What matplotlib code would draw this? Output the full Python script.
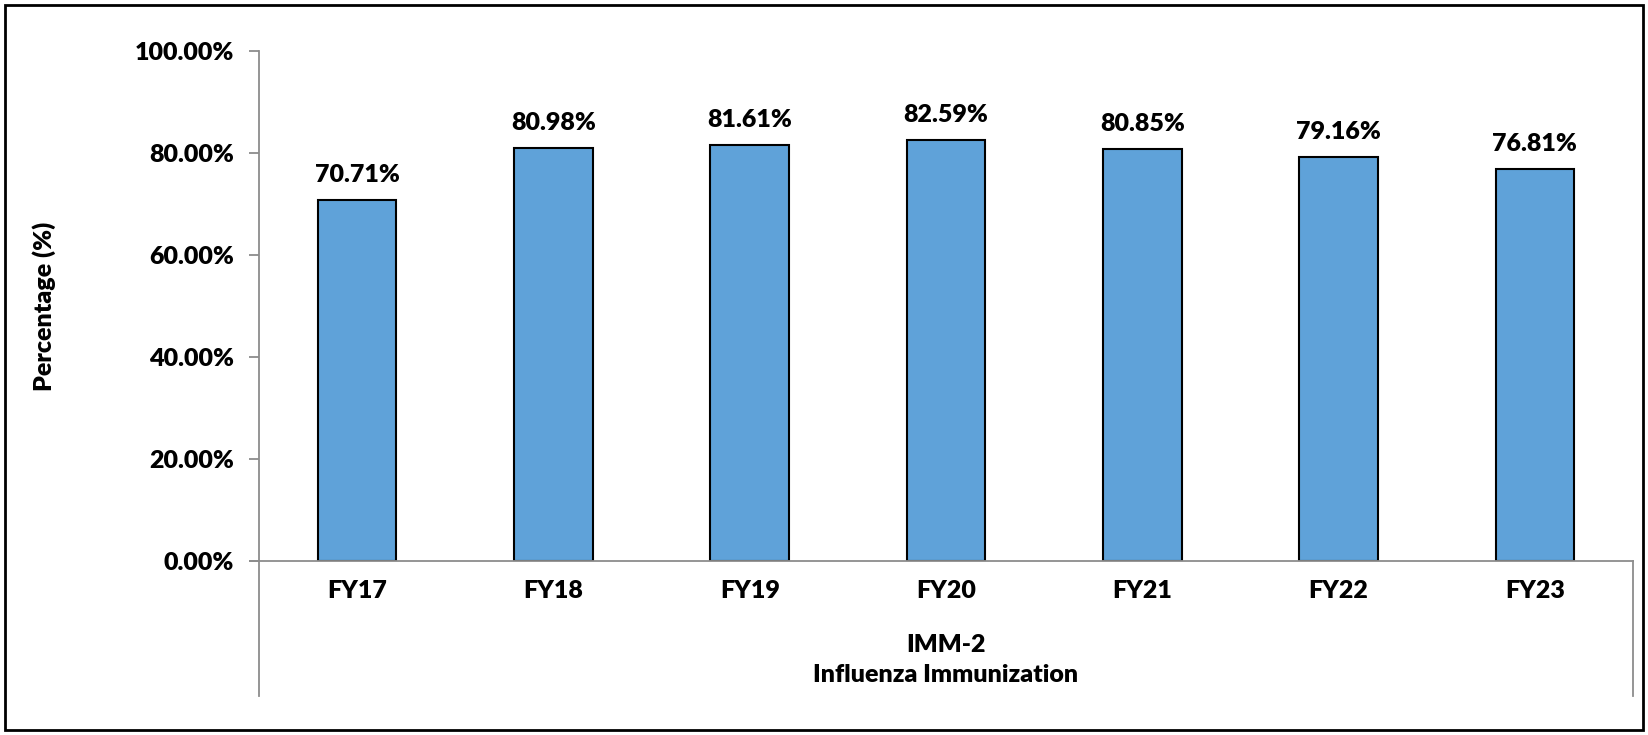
import matplotlib
matplotlib.use("Agg")
import matplotlib.pyplot as plt
from matplotlib.patches import Rectangle
from matplotlib.ticker import FuncFormatter

# data
categories = ["FY17", "FY18", "FY19", "FY20", "FY21", "FY22", "FY23"]
values = [70.71, 80.98, 81.61, 82.59, 80.85, 79.16, 76.81]
y_ticks = [0, 20, 40, 60, 80, 100]
group_label = "IMM-2\nInfluenza Immunization"

W, H = 1649, 735
FW = "heavy"
plt.rcParams["font.family"] = ["Lato", "DejaVu Sans"]
plt.rcParams["font.weight"] = FW

fig = plt.figure(figsize=(W / 100, H / 100), dpi=100)
ax = fig.add_axes([259 / W, (H - 561) / H, (1633 - 259) / W, (561 - 51) / H])

x = range(len(categories))
bars = ax.bar(x, values, width=0.4, color="#5FA2D9", edgecolor="black", linewidth=1.5, zorder=2)

for b, v in zip(bars, values):
    ax.annotate(f"{v:.2f}%", (b.get_x() + b.get_width() / 2, v), xytext=(0, 10),
                textcoords="offset points", ha="center", va="bottom",
                fontsize=18, fontweight=FW)

ax.set_xlim(-0.5, len(categories) - 0.5)
ax.set_ylim(0, 100)
ax.set_yticks(y_ticks)
ax.yaxis.set_major_formatter(FuncFormatter(lambda v, _: f"{v:.2f}%"))
ax.set_xticks(list(x))
ax.set_xticklabels(categories)
ax.tick_params(axis="y", length=7, width=1.3, color="#8c8c8c", labelsize=18, pad=11)
ax.tick_params(axis="x", length=0, labelsize=18, pad=14)
for lbl in ax.get_xticklabels() + ax.get_yticklabels():
    lbl.set_fontweight(FW)

for s in ["top", "right"]:
    ax.spines[s].set_visible(False)
for s in ["left", "bottom"]:
    ax.spines[s].set_color("#8c8c8c")
    ax.spines[s].set_linewidth(1.3)

# multi-level category separators below the axis
drop = -(696 - 561) / (561 - 51)
ax.plot([0, 0], [0, drop], transform=ax.transAxes, color="#8c8c8c", lw=1.3, clip_on=False)
ax.plot([1, 1], [0, drop], transform=ax.transAxes, color="#8c8c8c", lw=1.3, clip_on=False)
ax.plot([-9 / (1633 - 259), 0], [0, 0], transform=ax.transAxes, color="#8c8c8c", lw=1.3, clip_on=False)

fig.text((259 + 1633) / 2 / W, 1 - 660 / H, group_label, ha="center", va="center",
         fontsize=18, fontweight=FW, linespacing=1.5)

ax.set_ylabel("Percentage (%)", fontsize=18, fontweight=FW)
ax.yaxis.set_label_coords(-(259 - 56) / (1633 - 259), 0.5)

fig.patches.append(Rectangle((5 / W, 5 / H), (1643 - 5) / W, (730 - 5) / H,
                             transform=fig.transFigure, fill=False, edgecolor="black", linewidth=2))

fig.savefig("out.png", dpi=100)
